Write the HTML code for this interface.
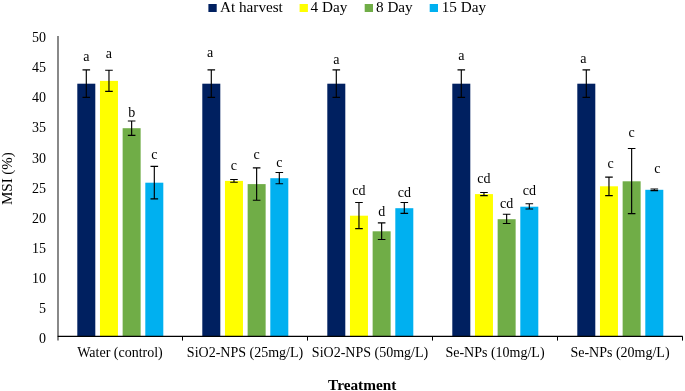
<!DOCTYPE html><html><head><meta charset="utf-8"><style>html,body{margin:0;padding:0;background:#fff;}svg{display:block;will-change:transform}text{font-family:"Liberation Serif",serif;fill:#000}</style></head><body>
<svg width="685" height="391" viewBox="0 0 685 391">

<rect x="208.4" y="4" width="8.3" height="8" fill="#002060"/>
<text x="220.0" y="12.3" font-size="15.2">At harvest</text>
<rect x="299.6" y="4" width="8.3" height="8" fill="#FFFF00"/>
<text x="310.6" y="12.3" font-size="15.2">4 Day</text>
<rect x="364.7" y="4" width="8.3" height="8" fill="#70AD47"/>
<text x="376.0" y="12.3" font-size="15.2">8 Day</text>
<rect x="429.7" y="4" width="8.3" height="8" fill="#00B0F0"/>
<text x="441.7" y="12.3" font-size="15.2">15 Day</text>
<text x="46" y="342.80" font-size="14" text-anchor="end">0</text>
<text x="46" y="312.75" font-size="14" text-anchor="end">5</text>
<text x="46" y="282.70" font-size="14" text-anchor="end">10</text>
<text x="46" y="252.65" font-size="14" text-anchor="end">15</text>
<text x="46" y="222.60" font-size="14" text-anchor="end">20</text>
<text x="46" y="192.55" font-size="14" text-anchor="end">25</text>
<text x="46" y="162.50" font-size="14" text-anchor="end">30</text>
<text x="46" y="132.45" font-size="14" text-anchor="end">35</text>
<text x="46" y="102.40" font-size="14" text-anchor="end">40</text>
<text x="46" y="72.35" font-size="14" text-anchor="end">45</text>
<text x="46" y="42.30" font-size="14" text-anchor="end">50</text>
<text transform="translate(12.3,178.6) rotate(-90)" font-size="15" text-anchor="middle">MSI (%)</text>
<rect x="77.30" y="83.7" width="18.0" height="252.70" fill="#002060"/>
<rect x="99.97" y="80.9" width="18.0" height="255.50" fill="#FFFF00"/>
<rect x="122.64" y="128.2" width="18.0" height="208.20" fill="#70AD47"/>
<rect x="145.31" y="182.7" width="18.0" height="153.70" fill="#00B0F0"/>
<rect x="202.30" y="83.7" width="18.0" height="252.70" fill="#002060"/>
<rect x="224.97" y="180.9" width="18.0" height="155.50" fill="#FFFF00"/>
<rect x="247.64" y="184.1" width="18.0" height="152.30" fill="#70AD47"/>
<rect x="270.31" y="178.2" width="18.0" height="158.20" fill="#00B0F0"/>
<rect x="327.30" y="83.7" width="18.0" height="252.70" fill="#002060"/>
<rect x="349.97" y="215.7" width="18.0" height="120.70" fill="#FFFF00"/>
<rect x="372.64" y="231.3" width="18.0" height="105.10" fill="#70AD47"/>
<rect x="395.31" y="208.2" width="18.0" height="128.20" fill="#00B0F0"/>
<rect x="452.30" y="83.7" width="18.0" height="252.70" fill="#002060"/>
<rect x="474.97" y="194.1" width="18.0" height="142.30" fill="#FFFF00"/>
<rect x="497.64" y="219.2" width="18.0" height="117.20" fill="#70AD47"/>
<rect x="520.31" y="206.7" width="18.0" height="129.70" fill="#00B0F0"/>
<rect x="577.30" y="83.7" width="18.0" height="252.70" fill="#002060"/>
<rect x="599.97" y="186.3" width="18.0" height="150.10" fill="#FFFF00"/>
<rect x="622.64" y="181.3" width="18.0" height="155.10" fill="#70AD47"/>
<rect x="645.31" y="189.8" width="18.0" height="146.60" fill="#00B0F0"/>
<path d="M86.30 69.9V97.3M82.50 69.9h7.6M82.50 97.3h7.6" stroke="#000" stroke-width="1.15" fill="none"/>
<text x="86.30" y="61.0" font-size="14" text-anchor="middle">a</text>
<path d="M108.97 70.2V91.4M105.17 70.2h7.6M105.17 91.4h7.6" stroke="#000" stroke-width="1.15" fill="none"/>
<text x="108.97" y="58.3" font-size="14" text-anchor="middle">a</text>
<path d="M131.64 121.0V135.3M127.84 121.0h7.6M127.84 135.3h7.6" stroke="#000" stroke-width="1.15" fill="none"/>
<text x="131.64" y="116.8" font-size="14" text-anchor="middle">b</text>
<path d="M154.31 166.3V198.8M150.51 166.3h7.6M150.51 198.8h7.6" stroke="#000" stroke-width="1.15" fill="none"/>
<text x="154.31" y="158.8" font-size="14" text-anchor="middle">c</text>
<path d="M211.30 69.9V97.3M207.50 69.9h7.6M207.50 97.3h7.6" stroke="#000" stroke-width="1.15" fill="none"/>
<text x="210.00" y="56.5" font-size="14" text-anchor="middle">a</text>
<path d="M233.97 179.5V182.2M230.17 179.5h7.6M230.17 182.2h7.6" stroke="#000" stroke-width="1.15" fill="none"/>
<text x="233.97" y="169.6" font-size="14" text-anchor="middle">c</text>
<path d="M256.64 167.9V200.2M252.84 167.9h7.6M252.84 200.2h7.6" stroke="#000" stroke-width="1.15" fill="none"/>
<text x="256.64" y="158.7" font-size="14" text-anchor="middle">c</text>
<path d="M279.31 172.5V183.7M275.51 172.5h7.6M275.51 183.7h7.6" stroke="#000" stroke-width="1.15" fill="none"/>
<text x="279.31" y="166.7" font-size="14" text-anchor="middle">c</text>
<path d="M336.30 69.9V97.3M332.50 69.9h7.6M332.50 97.3h7.6" stroke="#000" stroke-width="1.15" fill="none"/>
<text x="336.30" y="63.6" font-size="14" text-anchor="middle">a</text>
<path d="M358.97 202.5V228.6M355.17 202.5h7.6M355.17 228.6h7.6" stroke="#000" stroke-width="1.15" fill="none"/>
<text x="358.97" y="194.6" font-size="14" text-anchor="middle">cd</text>
<path d="M381.64 222.8V239.5M377.84 222.8h7.6M377.84 239.5h7.6" stroke="#000" stroke-width="1.15" fill="none"/>
<text x="381.64" y="216.0" font-size="14" text-anchor="middle">d</text>
<path d="M404.31 202.5V213.4M400.51 202.5h7.6M400.51 213.4h7.6" stroke="#000" stroke-width="1.15" fill="none"/>
<text x="404.31" y="196.5" font-size="14" text-anchor="middle">cd</text>
<path d="M461.30 69.9V97.3M457.50 69.9h7.6M457.50 97.3h7.6" stroke="#000" stroke-width="1.15" fill="none"/>
<text x="461.30" y="59.7" font-size="14" text-anchor="middle">a</text>
<path d="M483.97 192.5V195.6M480.17 192.5h7.6M480.17 195.6h7.6" stroke="#000" stroke-width="1.15" fill="none"/>
<text x="483.97" y="183.0" font-size="14" text-anchor="middle">cd</text>
<path d="M506.64 214.2V223.5M502.84 214.2h7.6M502.84 223.5h7.6" stroke="#000" stroke-width="1.15" fill="none"/>
<text x="506.64" y="207.6" font-size="14" text-anchor="middle">cd</text>
<path d="M529.31 203.7V209.0M525.51 203.7h7.6M525.51 209.0h7.6" stroke="#000" stroke-width="1.15" fill="none"/>
<text x="529.31" y="194.8" font-size="14" text-anchor="middle">cd</text>
<path d="M586.30 69.9V97.3M582.50 69.9h7.6M582.50 97.3h7.6" stroke="#000" stroke-width="1.15" fill="none"/>
<text x="583.30" y="62.5" font-size="14" text-anchor="middle">a</text>
<path d="M608.97 177.1V195.6M605.17 177.1h7.6M605.17 195.6h7.6" stroke="#000" stroke-width="1.15" fill="none"/>
<text x="610.57" y="167.9" font-size="14" text-anchor="middle">c</text>
<path d="M631.64 148.5V213.6M627.84 148.5h7.6M627.84 213.6h7.6" stroke="#000" stroke-width="1.15" fill="none"/>
<text x="631.64" y="136.5" font-size="14" text-anchor="middle">c</text>
<path d="M654.31 189.0V190.6M650.51 189.0h7.6M650.51 190.6h7.6" stroke="#000" stroke-width="1.15" fill="none"/>
<text x="657.31" y="172.6" font-size="14" text-anchor="middle">c</text>
<line x1="58" y1="36" x2="58" y2="340.6" stroke="#6b6b6b" stroke-width="1.6"/>
<line x1="57.7" y1="336.4" x2="682.7" y2="336.4" stroke="#000" stroke-width="1.1"/>
<line x1="182.50" y1="336.4" x2="182.50" y2="340.6" stroke="#000" stroke-width="1"/>
<line x1="307.50" y1="336.4" x2="307.50" y2="340.6" stroke="#000" stroke-width="1"/>
<line x1="432.50" y1="336.4" x2="432.50" y2="340.6" stroke="#000" stroke-width="1"/>
<line x1="557.50" y1="336.4" x2="557.50" y2="340.6" stroke="#000" stroke-width="1"/>
<line x1="682.50" y1="336.4" x2="682.50" y2="340.6" stroke="#000" stroke-width="1"/>
<text x="120.00" y="356.8" font-size="14" text-anchor="middle">Water (control)</text>
<text x="245.00" y="356.8" font-size="14" text-anchor="middle">SiO2-NPS (25mg/L)</text>
<text x="370.00" y="356.8" font-size="14" text-anchor="middle">SiO2-NPS (50mg/L)</text>
<text x="495.00" y="356.8" font-size="14" text-anchor="middle">Se-NPs (10mg/L)</text>
<text x="620.00" y="356.8" font-size="14" text-anchor="middle">Se-NPs (20mg/L)</text>
<text x="362.2" y="389.6" font-size="15.3" font-weight="bold" text-anchor="middle">Treatment</text>
</svg></body></html>
